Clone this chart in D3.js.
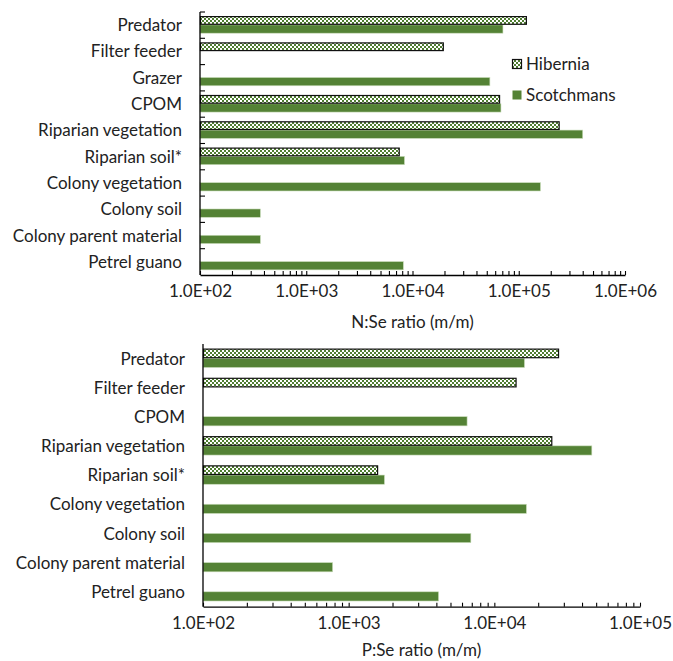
<!DOCTYPE html>
<html><head><meta charset="utf-8">
<script src="https://cdn.jsdelivr.net/npm/d3@7"></script>
<style>body{margin:0;background:#fff} text{font-family:Lato,"Open Sans",sans-serif;fill:#222}</style>
</head><body><svg id="c" width="673" height="661"></svg>
<script>
// ---- data ----
const seriesNames = ["Hibernia", "Scotchmans"];
const catsN = ["Predator", "Filter feeder", "Grazer", "CPOM", "Riparian vegetation", "Riparian soil*", "Colony vegetation ", "Colony soil", "Colony parent material", "Petrel guano"];
const hibN = [1.18e5, 1.95e4, null, 6.6e4, 2.4e5, 7.5e3, null, null, null, null];
const scoN = [7.1e4, null, 5.35e4, 6.8e4, 4.0e5, 8.4e3, 1.6e5, 370, 370, 8.2e3];
const catsP = ["Predator", "Filter feeder", "CPOM", "Riparian vegetation", "Riparian soil*", "Colony vegetation", "Colony soil", "Colony parent material", "Petrel guano"];
const hibP = [2.76e4, 1.41e4, null, 2.48e4, 1.58e3, null, null, null, null];
const scoP = [1.61e4, null, 6.5e3, 4.67e4, 1.76e3, 1.66e4, 6.9e3, 776, 4.14e3];
const domainN = [1e2, 1e6];
const domainP = [1e2, 1e5];
const titleN = "N:Se ratio (m/m)";
const titleP = "P:Se ratio (m/m)";

// ---- drawing ----
const svg = d3.select("#c");
const GREEN = "#548235";
const FS = "17px";
const defs = svg.append("defs");
const pat = defs.append("pattern").attr("id", "hibPat").attr("patternUnits", "userSpaceOnUse")
  .attr("width", 4).attr("height", 4);
pat.append("rect").attr("width", 4).attr("height", 4).attr("fill", "#ffffff");
pat.append("rect").attr("x", 2).attr("y", 0).attr("width", 2).attr("height", 2).attr("fill", "#4f7d31");
pat.append("rect").attr("x", 0).attr("y", 2).attr("width", 2).attr("height", 2).attr("fill", "#4f7d31");

const fmt = d => {
  const e = Math.round(Math.log10(d));
  return Math.abs(Math.log10(d) - e) < 1e-9 ? "1.0E+" + String(e).padStart(2, "0") : "";
};

function panel(cfg) {
  const {cats, hib, sco, domain, x0, x1, y0, y1, title, yTicks, titleY} = cfg;
  const x = d3.scaleLog().domain(domain).range([x0, x1]);
  const y = d3.scaleBand().domain(cats).range([y0, y1]);
  const g = svg.append("g");
  const bw = y.bandwidth();
  const bh = bw * 0.315;
  const off = bw * 0.175;

  g.selectAll("rect.s").data(cats.map((c, i) => ({c, v: sco[i]})).filter(d => d.v != null))
    .join("rect").attr("class", "s")
    .attr("x", x0).attr("y", d => y(d.c) + off + bh)
    .attr("width", d => x(d.v) - x0).attr("height", bh)
    .attr("fill", GREEN).attr("stroke", "#c9dcb9").attr("stroke-width", 0.6);

  g.selectAll("rect.h").data(cats.map((c, i) => ({c, v: hib[i]})).filter(d => d.v != null))
    .join("rect").attr("class", "h")
    .attr("x", x0 + 0.5).attr("y", d => y(d.c) + off)
    .attr("width", d => x(d.v) - x0 - 0.5).attr("height", bh - 0.6)
    .attr("fill", "url(#hibPat)").attr("stroke", "#111").attr("stroke-width", 1.2);

  // category labels
  g.selectAll("text.cat").data(cats).join("text").attr("class", "cat")
    .attr("x", x0 - 18).attr("y", d => y(d) + bw / 2).attr("dy", "0.35em")
    .attr("text-anchor", "end").style("font-size", FS).text(d => d);

  // x axis
  const ax = d3.axisBottom(x).tickValues(x.ticks()).tickSizeInner(-4).tickSizeOuter(0)
    .tickPadding(10).tickFormat(fmt);
  const axg = g.append("g").attr("transform", `translate(0,${y1})`).call(ax);
  axg.select(".domain").attr("stroke", "#000").attr("stroke-width", 1.3);
  axg.selectAll(".tick line").attr("stroke", "#000").attr("stroke-width", 1.1);
  axg.selectAll(".tick text").style("font-size", FS).attr("fill", "#222")
    .style("font-family", "Lato, 'Open Sans', sans-serif");

  // y axis
  g.append("line").attr("x1", x0).attr("x2", x0).attr("y1", y0).attr("y2", y1)
    .attr("stroke", "#000").attr("stroke-width", 1.3);
  if (yTicks) {
    g.selectAll("line.yt").data(cats).join("line").attr("class", "yt")
      .attr("x1", x0).attr("x2", x0 + 5).attr("y1", d => y(d)).attr("y2", d => y(d))
      .attr("stroke", "#000").attr("stroke-width", 1.1);
  }

  // axis title
  g.append("text").attr("x", (x0 + x1) / 2).attr("y", titleY).attr("text-anchor", "middle")
    .style("font-size", FS).text(title);
  return {x, y};
}

panel({cats: catsN, hib: hibN, sco: scoN, domain: domainN, x0: 200, x1: 625, y0: 12, y1: 275,
  title: titleN, yTicks: true, titleY: 328});
panel({cats: catsP, hib: hibP, sco: scoP, domain: domainP, x0: 203, x1: 640, y0: 344, y1: 606.7,
  title: titleP, yTicks: false, titleY: 656});

// legend
const leg = svg.append("g").selectAll("g").data(seriesNames).join("g")
  .attr("transform", (d, i) => `translate(512,${64 + i * 31})`);
leg.append("rect").attr("x", 0.5).attr("y", -4.5).attr("width", 9).attr("height", 9)
  .attr("fill", (d, i) => i === 0 ? "url(#hibPat)" : GREEN)
  .attr("stroke", (d, i) => i === 0 ? "#111" : "none").attr("stroke-width", 1.2);
leg.append("text").attr("x", 14).attr("y", 0).attr("dy", "0.35em")
  .style("font-size", FS).text(d => d);
</script></body></html>
